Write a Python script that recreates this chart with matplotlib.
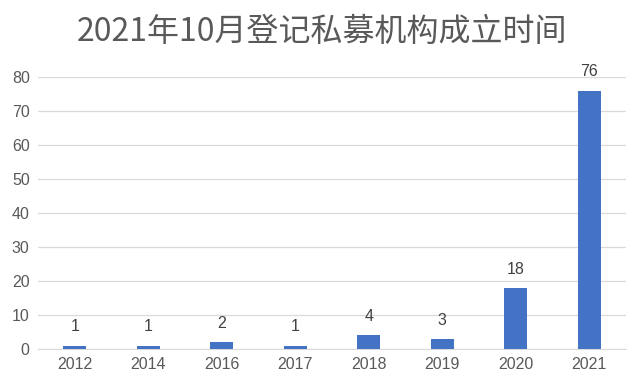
import matplotlib

matplotlib.use("Agg")
import matplotlib.pyplot as plt

plt.rcParams["font.family"] = ["Liberation Sans", "Noto Sans CJK SC", "DejaVu Sans"]

years = ["2012", "2014", "2016", "2017", "2018", "2019", "2020", "2021"]
counts = [1, 1, 2, 1, 4, 3, 18, 76]
y_ticks = [0, 10, 20, 30, 40, 50, 60, 70, 80]

fig = plt.figure(figsize=(6.44, 3.87), dpi=100)
ax = fig.add_axes([0.059, 0.098, 0.913, 0.703])

x = range(len(years))
ax.bar(x, counts, width=0.31, color="#4472C4", zorder=3)
for xi, v in zip(x, counts):
    ax.text(xi, v + 3.3, str(v), ha="center", va="bottom", fontsize=11.5,
            color="#404040")

ax.set_xlim(-0.5, len(years) - 0.5)
ax.set_ylim(0, 80)
ax.set_yticks(y_ticks)
ax.set_xticks(list(x))
ax.set_xticklabels(years)
ax.grid(axis="y", color="#d9d9d9", linewidth=0.9, zorder=0)
for side in ["top", "right", "left"]:
    ax.spines[side].set_visible(False)
ax.spines["bottom"].set_color("#d9d9d9")
ax.tick_params(axis="both", length=0, colors="#595959", labelsize=11.5, pad=6)

fig.suptitle("2021年10月登记私募机构成立时间", x=0.5, y=0.96, fontsize=23,
             color="#595959", family=["Noto Sans CJK SC", "DejaVu Sans"])

fig.savefig("out.png", dpi=100)
